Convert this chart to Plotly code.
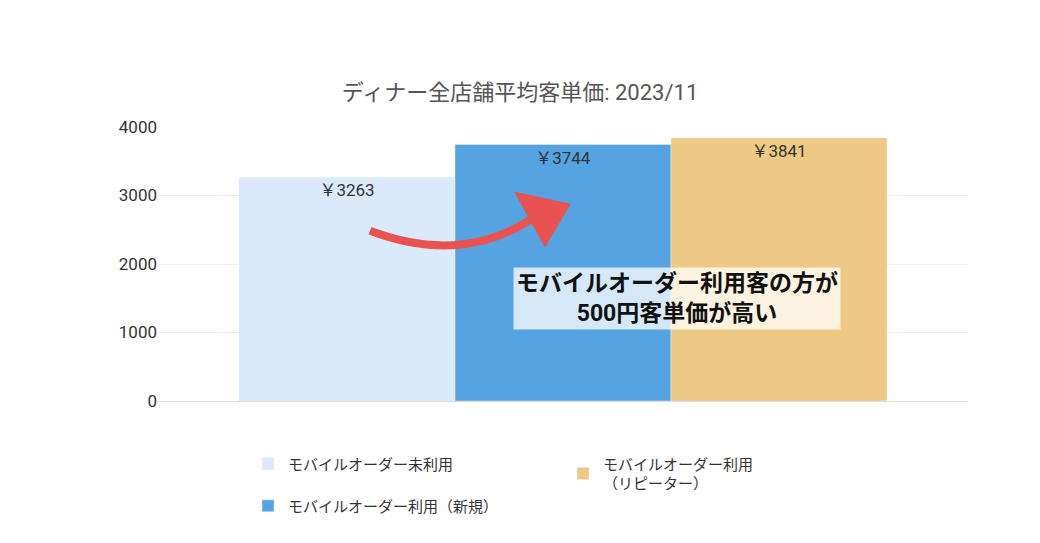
import plotly.graph_objects as go

category = ["2023/11"]
series_names = ["モバイルオーダー未利用", "モバイルオーダー利用（新規）", "モバイルオーダー利用<br>（リピーター）"]
series_values = [[3263], [3744], [3841]]
series_colors = ["#dbeafa", "#55a3e1", "#eec984"]
legend_ranks = [1, 3, 2]

fig = go.Figure()
for name, vals, col, rank in zip(series_names, series_values, series_colors, legend_ranks):
    fig.add_trace(go.Bar(
        x=category, y=vals, name=name, marker_color=col, legendrank=rank,
        text=[f"￥{v}" for v in vals], textposition="inside", insidetextanchor="end",
        textfont=dict(size=17, color="#333333"),
    ))

def px(x, y):
    return (x - 158) / 810, (404 - y) / 277

# curved arrow body
sx, sy = px(370, 232)
cx, cy = px(470, 270)
ex, ey = px(545, 210)
fig.add_shape(type="path", xref="paper", yref="paper",
              path=f"M {sx},{sy} Q {cx},{cy} {ex},{ey}",
              line=dict(color="#e9534f", width=8))
tx, ty = px(570, 205)
ax, ay = px(515, 193)
bx, by = px(545, 248)
fig.add_shape(type="path", xref="paper", yref="paper",
              path=f"M {tx},{ty} L {ax},{ay} L {bx},{by} Z",
              fillcolor="#e9534f", line=dict(color="#e9534f", width=1))

fig.add_annotation(xref="paper", yref="paper", x=px(677, 332)[0], y=px(677, 332)[1],
                   text="<b>モバイルオーダー利用客の方が<br>500円客単価が高い</b>",
                   showarrow=False, font=dict(size=23, color="#111111"),
                   bgcolor="rgba(255,255,255,0.75)", borderpad=2)

fig.update_layout(
    width=1024, height=527,
    margin=dict(l=150, r=64, t=119, b=131),
    paper_bgcolor="white", plot_bgcolor="white",
    font=dict(family="Roboto, Noto Sans CJK JP", color="#444444"),
    title=dict(text="ディナー全店舗平均客単価: 2023/11", x=0.5, y=0.855, xanchor="center",
               font=dict(size=22, color="#555555")),
    barmode="group", bargap=0.2, bargroupgap=0,
    showlegend=True,
    legend=dict(orientation="h", x=0.5, xanchor="center", y=-0.17, yanchor="top",
                font=dict(size=15, color="#333333"), entrywidth=270),
)
fig.update_xaxes(showticklabels=False, showline=True, linecolor="#dddddd")
fig.update_yaxes(range=[0, 4000], dtick=1000, gridcolor="#eeeeee",
                 tickfont=dict(size=17, color="#333333"), zeroline=False)

fig.write_html("out.html")
